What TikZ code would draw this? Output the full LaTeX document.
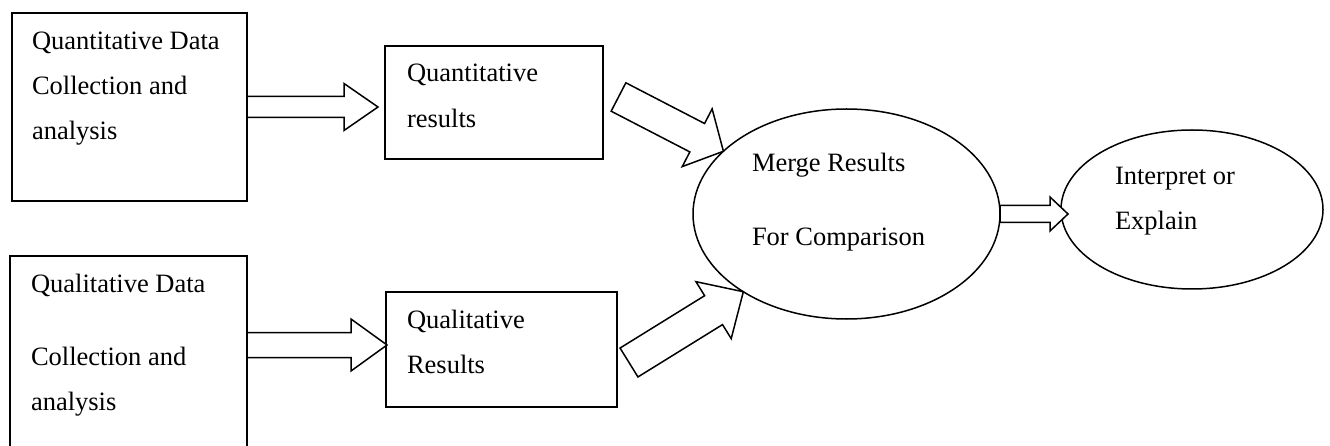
\documentclass[tikz,border=0pt]{standalone}
\usepackage{fontspec}
\setmainfont{Liberation Serif}
\usetikzlibrary{calc,shapes.geometric}

% Hollow block arrow from #1 to the tip #2:
% #3 half shaft width, #4 half head width, #5 head length
\newcommand\blockarrow[5]{%
  \path (#1) coordinate (ba-s) (#2) coordinate (ba-t);
  \path ($(ba-t)!#5!(ba-s)$) coordinate (ba-n);
  \draw[arrowline]
    ($(ba-s)!#3!90:(ba-t)$) -- ($(ba-n)!#3!90:(ba-t)$) --
    ($(ba-n)!#4!90:(ba-t)$) -- (ba-t) --
    ($(ba-n)!#4!-90:(ba-t)$) -- ($(ba-n)!#3!-90:(ba-t)$) --
    ($(ba-s)!#3!-90:(ba-t)$) -- cycle;
}

\begin{document}
\begin{tikzpicture}[x=1pt,y=-1pt,
  box/.style={draw=black,line width=1.6pt,fill=white,rectangle,inner sep=0pt,
              outer sep=0pt,anchor=north west},
  oval/.style={draw=black,line width=1.5pt,fill=white,ellipse,inner sep=0pt,outer sep=0pt},
  arrowline/.style={draw=black,line width=1.5pt,fill=white,line join=miter},
  txt/.style={anchor=base west,inner sep=0pt,outer sep=0pt,
              font=\fontsize{26.5pt}{32pt}\selectfont}]

\fill[white] (0,0) rectangle (1330,446);
\clip (0,0) rectangle (1330,446);

% boxes
\node[box,minimum width=235pt,minimum height=188pt] (q1) at (12,13) {};
\node[box,minimum width=218pt,minimum height=113pt] (q2) at (385,46) {};
\node[box,minimum width=237pt,minimum height=210pt] (q3) at (10,256) {};
\node[box,minimum width=231pt,minimum height=115pt] (q4) at (386,292) {};

% ellipses
\node[oval,minimum width=307pt,minimum height=210pt] (m1) at (846.5,214) {};
\node[oval,minimum width=262pt,minimum height=159pt] (ie) at (1192,209.5) {};

% labels
\node[txt] (q1a) at (32,50)  {Quantitative Data};
\node[txt] (q1b) at (32,95)  {Collection and};
\node[txt] (q1c) at (32,140) {analysis};

\node[txt] (q2a) at (407,82)  {Quantitative};
\node[txt] (q2b) at (407,128) {results};

\node[txt] (q3a) at (31,292) {Qualitative Data};
\node[txt] (q3b) at (31,365) {Collection and};
\node[txt] (q3c) at (31,410) {analysis};

\node[txt] (q4a) at (407,328) {Qualitative};
\node[txt] (q4b) at (407,373) {Results};

\node[txt] (m1a) at (752,172) {Merge Results};
\node[txt] (m1b) at (752,246) {For Comparison};

\node[txt] (iea) at (1115,185) {Interpret or};
\node[txt] (ieb) at (1115,230) {Explain};

% block arrows
\blockarrow{q1.east}{$(q1.east -| q2.west)+(-7,0)$}{10.5pt}{23.5pt}{34pt}
\blockarrow{$(q3.east |- q4.west)+(0,-4.5)$}{$(q4.west)+(1,-4.5)$}{12.5pt}{26pt}{36pt}
\blockarrow{$(q2.east)+(15.5,-5.5)$}{m1.153}{16pt}{32.5pt}{29.5pt}
\blockarrow{$(q4.east)+(12,13)$}{m1.217}{17pt}{33.5pt}{35pt}
\blockarrow{m1.east}{$(m1.east)+(68,0)$}{8.5pt}{17pt}{18pt}

\end{tikzpicture}
\end{document}
